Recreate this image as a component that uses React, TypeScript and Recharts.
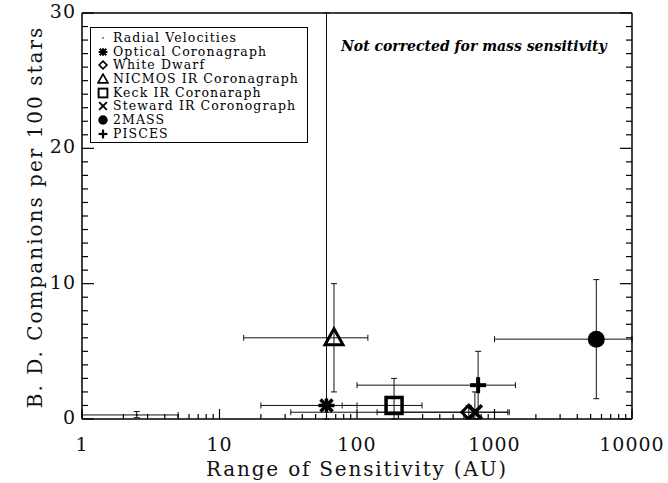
import React from 'react';
import { ScatterChart, Scatter, XAxis, YAxis, ErrorBar } from 'recharts';

const seriesNames = [
  'Radial Velocities',
  'Optical Coronagraph',
  'White Dwarf',
  'NICMOS IR Coronagraph',
  'Keck IR Coronaraph',
  'Steward IR Coronograph',
  '2MASS',
  'PISCES',
];
const seriesKeys = ['dot', 'asterisk', 'diamond', 'triangle', 'square', 'cross', 'circle', 'plus'];

// sensitivity range (AU) and companion rate
const xVals = [2.5, 60, 650, 68, 186, 720, 5500, 760];
const yVals = [0.3, 1.0, 0.5, 6.0, 1.0, 0.5, 5.9, 2.5];
const xErrLow = [1.6, 40, 617, 53, 108, 580, 4500, 660];
const xErrHigh = [2.5, 40, 600, 52, 111, 560, 8000, 660];
const yErrLow = [0.2, 1.0, 0.5, 4.0, 1.0, 0.5, 4.4, 2.5];
const yErrHigh = [0.25, 40, 0.5, 4.0, 2.0, 1.5, 4.4, 2.5];

const xMajor = [1, 10, 100, 1000, 10000];
const xMinor = [2, 3, 4, 5, 6, 7, 8, 9, 20, 30, 40, 50, 60, 70, 80, 90, 200, 300, 400, 500, 600, 700, 800, 900, 2000, 3000, 4000, 5000, 6000, 7000, 8000, 9000];
const yMajor = [0, 10, 20, 30];
const yMinor = [1, 2, 3, 4, 5, 6, 7, 8, 9, 11, 12, 13, 14, 15, 16, 17, 18, 19, 21, 22, 23, 24, 25, 26, 27, 28, 29];

const X_DOMAIN = [1, 10000];
const Y_DOMAIN = [0, 30];
const FONT = '"DejaVu Serif", serif';

function Marker({ kind, cx, cy, s = 1 }: { kind: string; cx: number; cy: number; s?: number }) {
  const k = (v: number) => v * s;
  switch (kind) {
    case 'dot':
      return <circle cx={cx} cy={cy} r={Math.max(k(1), 0.8)} fill="#000" />;
    case 'asterisk':
      return (
        <g stroke="#000" strokeWidth={k(3.5)}>
          <line x1={cx - k(8)} y1={cy} x2={cx + k(8)} y2={cy} />
          <line x1={cx - k(6)} y1={cy - k(6)} x2={cx + k(6)} y2={cy + k(6)} />
          <line x1={cx - k(6)} y1={cy + k(6)} x2={cx + k(6)} y2={cy - k(6)} />
          <line x1={cx} y1={cy - k(7)} x2={cx} y2={cy + k(7)} />
        </g>
      );
    case 'diamond':
      return <polygon points={`${cx},${cy - k(7)} ${cx + k(7)},${cy} ${cx},${cy + k(7)} ${cx - k(7)},${cy}`} fill="none" stroke="#000" strokeWidth={k(3)} />;
    case 'triangle':
      return <polygon points={`${cx},${cy - k(9)} ${cx + k(9)},${cy + k(7)} ${cx - k(9)},${cy + k(7)}`} fill="none" stroke="#000" strokeWidth={k(3)} />;
    case 'square':
      return <rect x={cx - k(8)} y={cy - k(8)} width={k(16)} height={k(16)} fill="none" stroke="#000" strokeWidth={k(3.5)} />;
    case 'cross':
      return (
        <g stroke="#000" strokeWidth={k(3.5)}>
          <line x1={cx - k(7)} y1={cy - k(7)} x2={cx + k(7)} y2={cy + k(7)} />
          <line x1={cx - k(7)} y1={cy + k(7)} x2={cx + k(7)} y2={cy - k(7)} />
        </g>
      );
    case 'circle':
      return <circle cx={cx} cy={cy} r={k(8.5)} fill="#000" />;
    case 'plus':
      return (
        <g stroke="#000" strokeWidth={k(4)}>
          <line x1={cx - k(8)} y1={cy} x2={cx + k(8)} y2={cy} />
          <line x1={cx} y1={cy - k(8)} x2={cx} y2={cy + k(8)} />
        </g>
      );
    default:
      return null;
  }
}

// error bars are cut at the frame, like the original plot
const seriesData = seriesNames.map((name, i) => {
  const x = xVals[i];
  const y = yVals[i];
  return [
    {
      name,
      x,
      y,
      ex: [Math.min(xErrLow[i], x - X_DOMAIN[0]), Math.min(xErrHigh[i], X_DOMAIN[1] - x)],
      ey: [Math.min(yErrLow[i], y - Y_DOMAIN[0]), Math.min(yErrHigh[i], Y_DOMAIN[1] - y)],
    },
  ];
});

const tickText = { fill: '#111', fontSize: 19, fontFamily: FONT, letterSpacing: 1 };

const BottomTick = (p: any) => {
  const v = p.payload.value;
  const major = xMajor.includes(v);
  return (
    <g>
      <line x1={p.x} x2={p.x} y1={p.y} y2={p.y - (major ? 10 : 5)} stroke="#000" strokeWidth={1.2} />
      {major && (
        <text x={p.x} y={p.y + 32} textAnchor="middle" {...tickText}>
          {v}
        </text>
      )}
    </g>
  );
};

const TopTick = (p: any) => {
  const major = xMajor.includes(p.payload.value);
  return <line x1={p.x} x2={p.x} y1={p.y} y2={p.y + (major ? 10 : 5)} stroke="#000" strokeWidth={1.2} />;
};

const LeftTick = (p: any) => {
  const v = p.payload.value;
  const major = yMajor.includes(v);
  return (
    <g>
      <line x1={p.x} x2={p.x + (major ? 12 : 6)} y1={p.y} y2={p.y} stroke="#000" strokeWidth={1.2} />
      {major && (
        <text x={p.x - 6} y={p.y + 5} textAnchor="end" {...tickText}>
          {v}
        </text>
      )}
    </g>
  );
};

const RightTick = (p: any) => {
  const major = yMajor.includes(p.payload.value);
  return <line x1={p.x} x2={p.x - (major ? 12 : 6)} y1={p.y} y2={p.y} stroke="#000" strokeWidth={1.2} />;
};

const xTicks = [...xMajor, ...xMinor].sort((a, b) => a - b);
const yTicks = [...yMajor, ...yMinor].sort((a, b) => a - b);
const axisLine = { stroke: '#000', strokeWidth: 1.5 };

export default function App() {
  return (
    <div style={{ position: 'absolute', left: 0, top: 0, width: 668, height: 483, background: '#fff', fontFamily: FONT }}>
      <ScatterChart width={668} height={483} margin={{ top: 0, right: 0, bottom: 0, left: 0 }}>
        <XAxis
          xAxisId="x"
          type="number"
          dataKey="x"
          scale="log"
          domain={X_DOMAIN}
          allowDataOverflow
          ticks={xTicks}
          interval={0}
          height={64}
          tickSize={0}
          tickMargin={0}
          tickLine={false}
          axisLine={axisLine}
          tick={<BottomTick />}
        />
        <XAxis
          xAxisId="xt"
          orientation="top"
          type="number"
          scale="log"
          domain={X_DOMAIN}
          allowDataOverflow
          ticks={xTicks}
          interval={0}
          height={13}
          tickSize={0}
          tickMargin={0}
          tickLine={false}
          axisLine={axisLine}
          tick={<TopTick />}
        />
        <YAxis
          yAxisId="y"
          type="number"
          dataKey="y"
          domain={Y_DOMAIN}
          allowDataOverflow
          ticks={yTicks}
          interval={0}
          width={82}
          tickSize={0}
          tickMargin={0}
          tickLine={false}
          axisLine={axisLine}
          tick={<LeftTick />}
        />
        <YAxis
          yAxisId="yr"
          orientation="right"
          type="number"
          domain={Y_DOMAIN}
          allowDataOverflow
          ticks={yTicks}
          interval={0}
          width={36}
          tickSize={0}
          tickMargin={0}
          tickLine={false}
          axisLine={axisLine}
          tick={<RightTick />}
        />
        {seriesData.map((d, i) => (
          <Scatter
            key={seriesKeys[i]}
            name={seriesNames[i]}
            data={d}
            xAxisId="x"
            yAxisId="y"
            isAnimationActive={false}
            shape={(p: any) => <Marker kind={seriesKeys[i]} cx={p.cx} cy={p.cy} />}
          >
            <ErrorBar dataKey="ex" direction="x" width={3} stroke="#111" strokeWidth={1} />
            <ErrorBar dataKey="ey" direction="y" width={3} stroke="#111" strokeWidth={1} />
          </Scatter>
        ))}
      </ScatterChart>

      {/* legend */}
      <div style={{ position: 'absolute', left: 90, top: 27, width: 218, height: 116, border: '1px solid #000', boxSizing: 'border-box', padding: '3px 0 0 6px' }}>
        {seriesNames.map((n, i) => (
          <div key={seriesKeys[i]} style={{ display: 'flex', alignItems: 'center', height: 13.7, fontSize: 12.5, lineHeight: '13.7px', color: '#000', whiteSpace: 'nowrap' }}>
            <svg width={12} height={12} style={{ marginRight: 4, flexShrink: 0 }}>
              <Marker kind={seriesKeys[i]} cx={6} cy={6} s={0.55} />
            </svg>
            <span style={{ letterSpacing: 1.1 }}>{n}</span>
          </div>
        ))}
      </div>

      <div style={{ position: 'absolute', left: 341, top: 38, fontSize: 14, fontWeight: 'bold', fontStyle: 'italic', color: '#000', whiteSpace: 'nowrap' }}>
        Not corrected for mass sensitivity
      </div>

      <div style={{ position: 'absolute', left: 82, width: 550, top: 457, textAlign: 'center', fontSize: 20, letterSpacing: 1.8, color: '#111', whiteSpace: 'nowrap' }}>
        Range of Sensitivity (AU)
      </div>

      <div
        style={{
          position: 'absolute',
          left: 35,
          top: 217,
          transform: 'translate(-50%, -50%) rotate(-90deg)',
          fontSize: 20,
          letterSpacing: 2,
          color: '#111',
          whiteSpace: 'nowrap',
        }}
      >
        B. D. Companions per 100 stars
      </div>
    </div>
  );
}
